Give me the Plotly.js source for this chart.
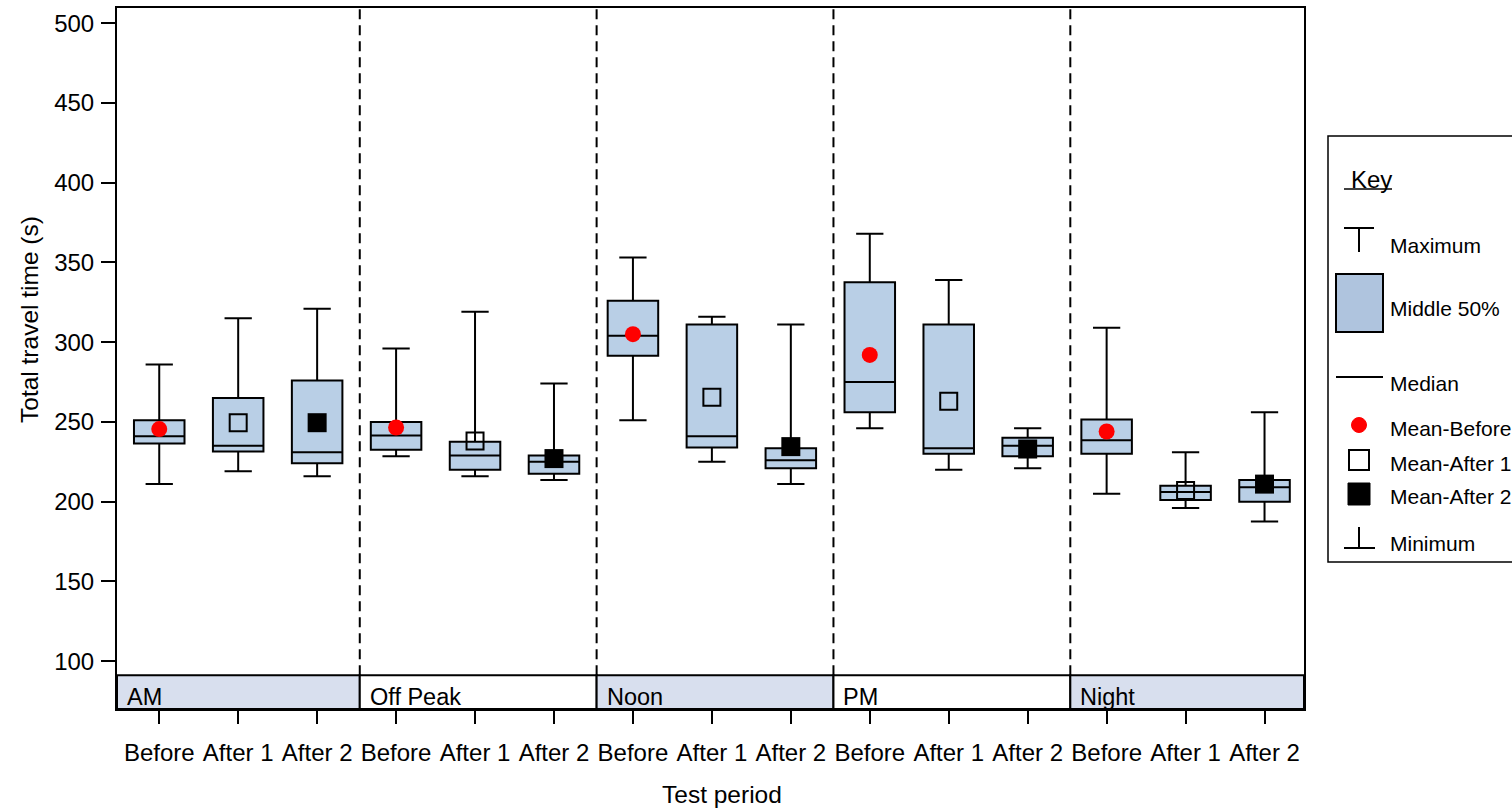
<!DOCTYPE html>
<html>
<head>
<meta charset="utf-8">
<script src="https://cdn.plot.ly/plotly-3.0.1.min.js"></script>
<style>
  html, body { margin: 0; padding: 0; background: #fff; }
  #chart { width: 1512px; height: 809px; }
</style>
</head>
<body>
<div id="chart"></div>
<script>
// Time-of-day groups and the three test periods inside each group
const groups = ['AM', 'Off Peak', 'Noon', 'PM', 'Night'];
const periods = ['Before', 'After 1', 'After 2'];

// Box statistics, ordered group by group: Before, After 1, After 2
const maximum = [286, 315, 321, 296, 319, 274, 353, 316, 311, 368, 339, 246, 309, 231, 256];
const q3      = [251, 265, 276, 250, 237.5, 229, 326, 311, 233.5, 337.5, 311, 240, 251.5, 210, 213.5];
const median  = [241, 235, 231, 241.5, 229, 225, 304, 241, 226, 275, 233.5, 235, 238.5, 206, 209];
const q1      = [236.5, 231.5, 224, 232.5, 220, 217.5, 291.5, 234, 221, 256, 230, 228.5, 230, 201, 200];
const minimum = [211, 219, 216, 228.5, 216, 213.5, 251, 225, 211, 246, 220, 221, 205, 196, 187.5];

// Mean travel time per group for each period
const meanBefore = [245.5, 246.5, 305, 292, 244];
const meanAfter1 = [249.5, 238, 265.5, 263, 207];
const meanAfter2 = [249.5, 227, 234.5, 233, 211];

// Legend ("Key") entries
const keyLabels = ['Maximum', 'Middle 50%', 'Median', 'Mean-Before', 'Mean-After 1', 'Mean-After 2', 'Minimum'];

const FONT = '"Liberation Sans", Arial, sans-serif';
const BOX_FILL = '#b9cfe6';
const STRIP_FILL = '#d8dfee';

// Slot positions along the x axis: one slot per (group, period)
const slotX = [];
const slotText = [];
groups.forEach((g, gi) => periods.forEach((p, pi) => { slotX.push(gi * 3 + pi); slotText.push(p); }));
const periodX = k => groups.map((g, gi) => gi * 3 + k);

const traces = [
  {
    type: 'box',
    x: slotX,
    q1: q1, median: median, q3: q3,
    lowerfence: minimum, upperfence: maximum,
    boxpoints: false,
    width: 0.64,
    whiskerwidth: 0.54,
    fillcolor: BOX_FILL,
    line: { color: '#000', width: 2 },
    hoverinfo: 'skip',
    showlegend: false
  },
  {
    type: 'scatter', mode: 'markers', name: 'Mean-Before',
    x: periodX(0), y: meanBefore,
    marker: { symbol: 'circle', size: 16, color: '#ff0000' },
    hoverinfo: 'skip', showlegend: false
  },
  {
    type: 'scatter', mode: 'markers', name: 'Mean-After 1',
    x: periodX(1), y: meanAfter1,
    marker: { symbol: 'square-open', size: 17, color: '#000', line: { width: 2, color: '#000' } },
    hoverinfo: 'skip', showlegend: false
  },
  {
    type: 'scatter', mode: 'markers', name: 'Mean-After 2',
    x: periodX(2), y: meanAfter2,
    marker: { symbol: 'square', size: 19, color: '#000' },
    hoverinfo: 'skip', showlegend: false
  }
];

// Plot frame geometry (pixels) used for items placed in paper space
const M = { l: 117, r: 208, t: 8, b: 100 };
const W = 1512, H = 809;
const PW = W - M.l - M.r, PH = H - M.t - M.b;
const px = X => (X - M.l) / PW;
const py = Y => (H - M.b - Y) / PH;

const Y_LO = 70, Y_HI = 509.5, STRIP_TOP = 91.2;
const X_LO = -0.535, X_HI = 14.5;

const shapes = [];
const annotations = [];

// Group bands along the bottom, with dashed separators above them
const bounds = [X_LO];
for (let g = 1; g < groups.length; g++) bounds.push(g * 3 - 0.46);
bounds.push(X_HI);
groups.forEach((g, gi) => {
  shapes.push({
    type: 'rect', xref: 'x', yref: 'y',
    x0: bounds[gi], x1: bounds[gi + 1], y0: Y_LO, y1: STRIP_TOP,
    fillcolor: gi % 2 === 0 ? STRIP_FILL : '#ffffff',
    line: { color: '#000', width: 2 }, layer: 'above'
  });
  annotations.push({
    xref: 'x', yref: 'y', x: bounds[gi], y: Y_LO, xanchor: 'left', yanchor: 'bottom',
    xshift: 8, yshift: -3, text: g, showarrow: false,
    font: { family: FONT, size: 23.5, color: '#000' }
  });
  if (gi > 0) {
    shapes.push({
      type: 'line', xref: 'x', yref: 'y',
      x0: bounds[gi], x1: bounds[gi], y0: STRIP_TOP, y1: Y_HI,
      line: { color: '#000', width: 2, dash: '10px,6px' }, layer: 'below'
    });
  }
});

// Axis titles
annotations.push({
  xref: 'paper', yref: 'paper', x: px(30), y: py(320), xanchor: 'center', yanchor: 'middle',
  text: 'Total travel time (s)', textangle: -90, showarrow: false,
  font: { family: FONT, size: 24.5, color: '#000' }
});
annotations.push({
  xref: 'paper', yref: 'paper', x: px(722), y: py(794), xanchor: 'center', yanchor: 'middle',
  text: 'Test period', showarrow: false,
  font: { family: FONT, size: 24.5, color: '#000' }
});

// Key panel on the right
const K = { color: '#000', width: 2 };
const pline = (x0, y0, x1, y1, w) => shapes.push({
  type: 'line', xref: 'paper', yref: 'paper',
  x0: px(x0), x1: px(x1), y0: py(y0), y1: py(y1), line: { color: '#000', width: w || 2 }
});
shapes.push({
  type: 'rect', xref: 'paper', yref: 'paper',
  x0: px(1328), x1: px(1540), y0: py(562), y1: py(136),
  line: { color: '#000', width: 1.5 }, fillcolor: 'rgba(0,0,0,0)'
});
annotations.push({
  xref: 'paper', yref: 'paper', x: px(1349), y: py(179), xanchor: 'left', yanchor: 'middle',
  text: 'Key', showarrow: false, font: { family: FONT, size: 24, color: '#000' }
});
pline(1344, 189, 1392, 189, 1.5);

// Maximum symbol
pline(1344, 228, 1374, 228);
pline(1359, 228, 1359, 252);
// Middle 50% box
shapes.push({
  type: 'rect', xref: 'paper', yref: 'paper',
  x0: px(1336), x1: px(1383), y0: py(332), y1: py(274),
  fillcolor: '#afc4de', line: K
});
// Median line
pline(1336, 377, 1383, 377);
// Mean markers
shapes.push({
  type: 'circle', xref: 'paper', yref: 'paper',
  x0: px(1351.5), x1: px(1366.5), y0: py(432.5), y1: py(417.5),
  fillcolor: '#ff0000', line: { color: '#ff0000', width: 1 }
});
shapes.push({
  type: 'rect', xref: 'paper', yref: 'paper',
  x0: px(1349), x1: px(1369), y0: py(470), y1: py(450),
  fillcolor: 'rgba(0,0,0,0)', line: K
});
shapes.push({
  type: 'rect', xref: 'paper', yref: 'paper',
  x0: px(1348), x1: px(1370), y0: py(505), y1: py(483),
  fillcolor: '#000', line: { color: '#000', width: 1 }
});
// Minimum symbol
pline(1359, 527, 1359, 548);
pline(1344, 548, 1375, 548);

const keyY = [245, 308, 383, 428, 463, 497, 543];
keyLabels.forEach((t, i) => annotations.push({
  xref: 'paper', yref: 'paper', x: px(1388), y: py(keyY[i]), xanchor: 'left', yanchor: 'middle',
  text: t, showarrow: false, font: { family: FONT, size: 21, color: '#000' }
}));

const layout = {
  width: W, height: H,
  margin: M,
  paper_bgcolor: '#fff', plot_bgcolor: '#fff',
  font: { family: FONT, size: 24, color: '#000' },
  showlegend: false,
  xaxis: {
    range: [X_LO, X_HI],
    tickmode: 'array', tickvals: slotX, ticktext: slotText,
    ticks: 'outside', ticklen: 13, tickwidth: 2, tickcolor: '#000',
    tickfont: { family: FONT, size: 24, color: '#000' },
    ticklabelstandoff: 8,
    showline: true, linecolor: '#000', linewidth: 2, mirror: true,
    showgrid: false, zeroline: false, fixedrange: true
  },
  yaxis: {
    range: [Y_LO, Y_HI],
    tickmode: 'array', tickvals: [100, 150, 200, 250, 300, 350, 400, 450, 500],
    ticks: 'outside', ticklen: 14, tickwidth: 2, tickcolor: '#000',
    tickfont: { family: FONT, size: 24, color: '#000' },
    ticklabelstandoff: 2,
    showline: true, linecolor: '#000', linewidth: 2, mirror: true,
    showgrid: false, zeroline: false, fixedrange: true
  },
  shapes: shapes,
  annotations: annotations
};

Plotly.newPlot('chart', traces, layout, { displayModeBar: false, staticPlot: true });
</script>
</body>
</html>
